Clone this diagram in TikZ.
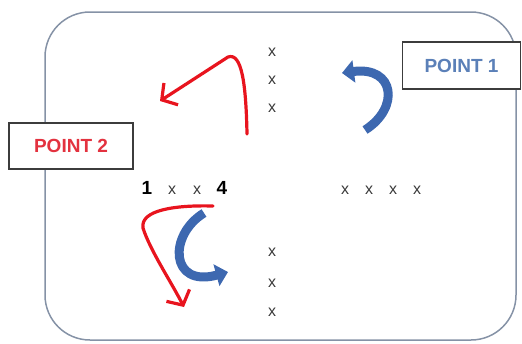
\documentclass[tikz,border=0pt]{standalone}
\usepackage{fontspec}
\setmainfont{Liberation Sans}
\usetikzlibrary{arrows.meta}
\definecolor{framec}{HTML}{8592A6}
\definecolor{boxc}{HTML}{3C3C3C}
\definecolor{pblue}{HTML}{5B80B8}
\definecolor{pred}{HTML}{E3323F}
\definecolor{ared}{HTML}{E8141E}
\definecolor{ablue}{HTML}{3D68B0}
\definecolor{xgray}{HTML}{3A3A3A}
\begin{document}
\begin{tikzpicture}[x=1pt,y=-1pt,
  labelbox/.style={draw=boxc, fill=white, line width=1.6pt, inner sep=0pt,
    font=\bfseries\fontsize{19}{19}\selectfont},
  xmark/.style={text=xgray, inner sep=0pt, font=\fontsize{16}{16}\selectfont},
  digit/.style={text=black, inner sep=0pt, font=\bfseries\fontsize{19}{19}\selectfont},
  redarrow/.style={draw=ared, line width=3.2pt, line cap=round, line join=round,
    -{Straight Barb[length=11pt,width=26pt,line width=3.2pt]}},
  bluearrow/.style={draw=ablue, line width=9pt,
    -{Triangle[length=12pt,width=22pt]}}]
\useasboundingbox (0,0) rectangle (522,343);
\draw[framec, line width=1.5pt, rounded corners=45pt] (45,12) rectangle (516,340);

% labels
\node[labelbox, text=pblue, minimum width=118pt, minimum height=47pt] (p1) at (461.5,65.5) {POINT 1};
\node[labelbox, text=pred, minimum width=124pt, minimum height=46pt] (p2) at (71,146) {POINT 2};

% vertical x's top
\node[xmark] (t1) at (272,52) {x};
\node[xmark] (t2) at (272,80) {x};
\node[xmark] (t3) at (272,108) {x};
% vertical x's bottom
\node[xmark] (b1) at (272,252) {x};
\node[xmark] (b2) at (272,283) {x};
\node[xmark] (b3) at (272,312) {x};
% left row
\node[digit] (d1) at (147,188) {1};
\node[xmark] (l2) at (172,190) {x};
\node[xmark] (l3) at (197,190) {x};
\node[digit] (d4) at (222,188) {4};
% right row
\node[xmark] (r1) at (345,190) {x};
\node[xmark] (r2) at (369,190) {x};
\node[xmark] (r3) at (393,190) {x};
\node[xmark] (r4) at (417,190) {x};

% red arrows
\coordinate (ra1) at (247,134);
\coordinate (ra2) at (160,101);
\draw[redarrow] (ra1) .. controls (246,85) and (242,52) .. (228,57) -- (ra2);
\coordinate (rb1) at (213,206);
\coordinate (rb2) at (184,307);
\draw[redarrow] (rb1) .. controls (175,205) and (140,210) .. (143,228) .. controls (150,250) and (170,280) .. (rb2);

% blue arrows
\coordinate (ba1) at (365,130);
\coordinate (ba2) at (342,73);
\draw[bluearrow] (ba1) .. controls (400,108) and (395,66) .. (ba2);
\coordinate (bb1) at (204,213);
\coordinate (bb2) at (228,272);
\draw[bluearrow] (bb1) .. controls (168,235) and (170,288) .. (bb2);
\end{tikzpicture}
\end{document}
